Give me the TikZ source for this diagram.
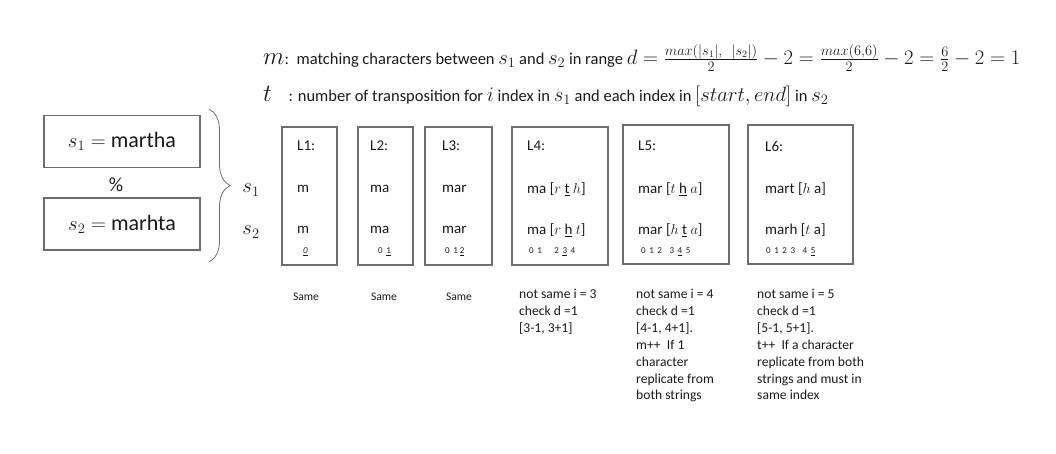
\documentclass[tikz,border=0pt]{standalone}
\usepackage{fontspec}
\setmainfont{Carlito}
\usepackage{tikz}
\usetikzlibrary{positioning, decorations.pathreplacing}
\definecolor{boxgray}{HTML}{6E6E6E}
\definecolor{inkgray}{HTML}{1A1A1A}
\newcommand{\hdmath}[1]{{\fontsize{20.5}{24}\selectfont$#1$}}
\newcommand{\hdsym}[1]{{\fontsize{25}{26}\selectfont$#1$}}

\begin{document}
\begin{tikzpicture}[x=1pt, y=-1pt, inkgray,
  strbox/.style={draw=boxgray, line width=1.6pt, minimum width=156pt, minimum height=52pt,
    font=\fontsize{22}{26}\selectfont},
  lbox/.style={draw=boxgray, line width=1.6pt, minimum height=138pt},
  ltext/.style={anchor=west, inner sep=0pt, font=\fontsize{15}{18}\selectfont},
  idx/.style={anchor=west, inner sep=0pt, font=\fontsize{9}{11}\selectfont},
  note/.style={anchor=north west, align=left, inner sep=0pt, font=\fontsize{13.6}{16.9}\selectfont},
  same/.style={inner sep=0pt, font=\fontsize{11.6}{14}\selectfont},
  hline/.style={anchor=west, inner sep=0pt, font=\fontsize{16.5}{20}\selectfont}]
  \useasboundingbox (0,0) rectangle (1056,453);

  % header
  \node[hline] (mline) at (263,58)
    {\hdsym{m}:\, matching characters between \hdmath{s_1} and \hdmath{s_2} in range
     \hdmath{d=\frac{max(|s_1|,\ \ |s_2|)}{2}-2=\frac{max(6,6)}{2}-2=\frac{6}{2}-2=1}};
  \node[hline] (tline) at (263,96)
    {\hdsym{t}\quad: number of transposition for \hdmath{i} index in \hdmath{s_1} and each index in
     \hdmath{[start,end]} in \hdmath{s_2}};

  % the two strings
  \node[strbox] (s1box) at (122,141.5) {$s_1=$ martha};
  \node[font=\fontsize{20}{22}\selectfont] (pct) at (116,185) {\%};
  \node[strbox] (s2box) at (122,224) {$s_2=$ marhta};
  \draw[decorate, decoration={brace, amplitude=21pt}, line width=0.8pt, boxgray]
    (209,109) -- (209,262);
  \node[font=\fontsize{20}{22}\selectfont] (s1lab) at (251,190) {$s_1$};
  \node[font=\fontsize{20}{22}\selectfont] (s2lab) at (251,232) {$s_2$};

  % levels
  \node[lbox, minimum width=55pt] (L1) at (309.5,196) {};
  \node[lbox, minimum width=55pt] (L2) at (385.5,196) {};
  \node[lbox, minimum width=67pt] (L3) at (458.5,196) {};
  \node[lbox, minimum width=96pt] (L4) at (560,196) {};
  \node[lbox, minimum width=106pt, minimum height=139pt] (L5) at (676,194.5) {};
  \node[lbox, minimum width=105pt, minimum height=139pt] (L6) at (800.5,194.5) {};
  \foreach \n/\x in {1/297,2/370,3/442,4/527,5/638,6/765}
    \node[ltext] (L\n head) at (\x,146) {L\n:};

  \node[ltext] (L1top) at (297,189) {m};
  \node[ltext] (L1bot) at (297,230) {m};
  \node[idx] (L1idx) at (303,252) {\underline{\textit{0}}};
  \node[ltext] (L2top) at (370,189) {ma};
  \node[ltext] (L2bot) at (370,230) {ma};
  \node[idx] (L2idx) at (378,252) {0 \,\underline{1}};
  \node[ltext] (L3top) at (442,189) {mar};
  \node[ltext] (L3bot) at (442,230) {mar};
  \node[idx] (L3idx) at (445,252) {0 \,1 \underline{2}};
  \node[ltext] (L4top) at (527,189) {ma [$r$ \underline{t} $h$]};
  \node[ltext] (L4bot) at (527,230) {ma [$r$ \underline{h} $t$]};
  \node[idx] (L4idx) at (529,252) {0 \,1 \quad \,2 \,\underline{3} \,4};
  \node[ltext] (L5top) at (638,189) {mar [$t$ \underline{h} $a$]};
  \node[ltext] (L5bot) at (638,230) {mar [$h$ \underline{t} $a$]};
  \node[idx] (L5idx) at (641,252) {0 \,1 \,2 \ \ \,3 \,\underline{4} \,5};
  \node[ltext] (L6top) at (765,189) {mart [$h$ a]};
  \node[ltext] (L6bot) at (765,230) {marh [$t$ a]};
  \node[idx] (L6idx) at (766,252) {0 \,1 \,2 \,3 \ \ \,4 \,\underline{5}};

  % notes
  \node[same] (L1note) at (306,297) {Same};
  \node[same] (L2note) at (384,297) {Same};
  \node[same] (L3note) at (459,297) {Same};
  \node[note] (L4note) at (519,289) {not same i = 3\\check d =1\\{[3-1, 3+1]}};
  \node[note] (L5note) at (636,289) {not same i = 4\\check d =1\\{[4-1, 4+1].}\\m++ \ If 1\\
    character\\replicate from\\both strings};
  \node[note] (L6note) at (757,289) {not same i = 5\\check d =1\\{[5-1, 5+1].}\\
    t++ \ If a character\\replicate from both\\strings and must in\\same index};
\end{tikzpicture}
\end{document}
